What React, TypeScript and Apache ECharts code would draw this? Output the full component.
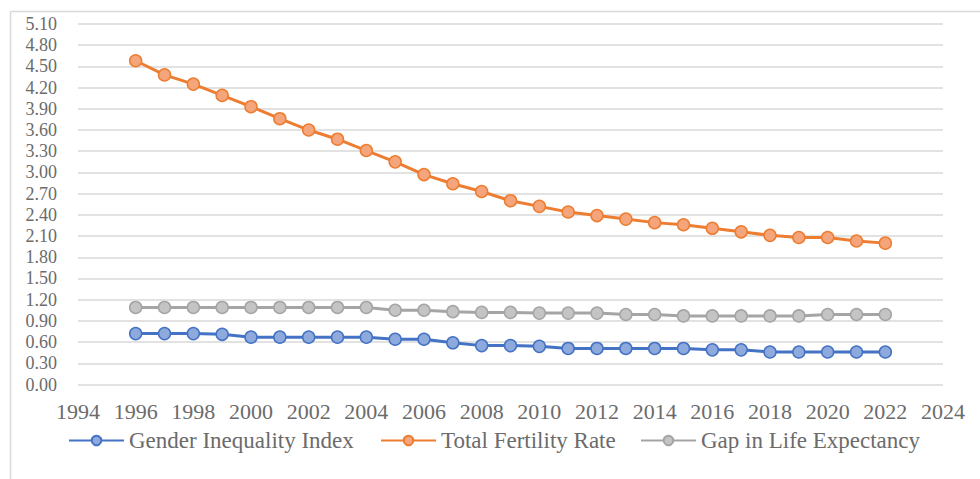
import React, { useEffect, useRef } from "react";
import * as echarts from "echarts";

const years = [1996, 1997, 1998, 1999, 2000, 2001, 2002, 2003, 2004, 2005, 2006, 2007, 2008, 2009, 2010, 2011, 2012, 2013, 2014, 2015, 2016, 2017, 2018, 2019, 2020, 2021, 2022];
const genderInequality = [0.72, 0.72, 0.72, 0.71, 0.67, 0.67, 0.67, 0.67, 0.67, 0.64, 0.64, 0.59, 0.55, 0.55, 0.54, 0.51, 0.51, 0.51, 0.51, 0.51, 0.49, 0.49, 0.46, 0.46, 0.46, 0.46, 0.46];
const fertilityRate = [4.58, 4.38, 4.25, 4.09, 3.93, 3.76, 3.6, 3.47, 3.31, 3.15, 2.97, 2.84, 2.73, 2.6, 2.52, 2.44, 2.39, 2.34, 2.29, 2.26, 2.21, 2.16, 2.11, 2.08, 2.08, 2.03, 2.0];
const lifeGap = [1.09, 1.09, 1.09, 1.09, 1.09, 1.09, 1.09, 1.09, 1.09, 1.05, 1.05, 1.03, 1.02, 1.02, 1.01, 1.01, 1.01, 0.99, 0.99, 0.97, 0.97, 0.97, 0.97, 0.97, 0.99, 0.99, 0.99];
const seriesNames = ["Gender Inequality Index", "Total Fertility Rate", "Gap in Life Expectancy"];

const FONT = "Liberation Serif, Times New Roman, serif";
const TEXT = "#6b6b6b";

export default function App() {
  const ref = useRef<HTMLDivElement>(null);
  useEffect(() => {
    if (!ref.current) return;
    const chart = echarts.init(ref.current, undefined, { renderer: "svg" });
    const mk = (name: string, vals: number[], line: string, fill: string) => ({
      name,
      type: "line",
      data: years.map((y, i) => [y, vals[i]]),
      symbol: "circle",
      symbolSize: 12,
      lineStyle: { color: line, width: 3 },
      itemStyle: { color: fill, borderColor: line, borderWidth: 1.5 },
    });
    const legendBase = {
      top: 429,
      itemWidth: 55,
      itemHeight: 12,
      textStyle: { fontFamily: FONT, fontSize: 23, color: TEXT },
      padding: 0,
    };
    chart.setOption({
      animation: false,
      backgroundColor: "#ffffff",
      grid: { left: 78, right: 37, top: 24, bottom: 94.5, containLabel: false },
      xAxis: {
        type: "value",
        min: 1994,
        max: 2024,
        interval: 2,
        axisLine: { show: false },
        axisTick: { show: false },
        splitLine: { show: false },
        axisLabel: {
          fontFamily: FONT,
          fontSize: 22,
          color: TEXT,
          margin: 16,
          formatter: (v: number) => String(v),
        },
      },
      yAxis: {
        type: "value",
        min: 0,
        max: 5.1,
        interval: 0.3,
        axisLine: { show: false },
        axisTick: { show: false },
        splitLine: { show: true, lineStyle: { color: "#d9d9d9", width: 1.5 } },
        axisLabel: {
          fontFamily: FONT,
          fontSize: 18,
          lineHeight: 16,
          color: TEXT,
          margin: 21,
          formatter: (v: number) => v.toFixed(2),
        },
      },
      legend: [
        { ...legendBase, left: 68, data: [seriesNames[0]] },
        { ...legendBase, left: 380, data: [seriesNames[1]] },
        { ...legendBase, left: 640, data: [seriesNames[2]] },
      ],
      graphic: [
        { type: "line", shape: { x1: 10.5, y1: 11.5, x2: 10.5, y2: 479 }, style: { stroke: "#d9d9d9", lineWidth: 1.5 } },
        { type: "line", shape: { x1: 10.5, y1: 11.5, x2: 980, y2: 11.5 }, style: { stroke: "#d9d9d9", lineWidth: 1.5 } },
      ],
      series: [
        mk(seriesNames[0], genderInequality, "#4472C4", "#8EA9DB"),
        mk(seriesNames[1], fertilityRate, "#ED7D31", "#F4A57C"),
        mk(seriesNames[2], lifeGap, "#A5A5A5", "#C4C4C4"),
      ],
    });
    return () => chart.dispose();
  }, []);
  return (
    <div
      ref={ref}
      style={{ position: "absolute", left: 0, top: 0, width: 980, height: 479 }}
    />
  );
}
